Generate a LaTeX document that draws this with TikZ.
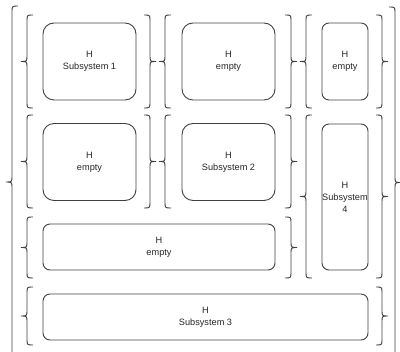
\documentclass[tikz,border=0pt]{standalone}
\usepackage{fontspec}
\setmainfont{Liberation Sans}
\tikzset{
  box/.style={draw=black!75, line width=0.9pt, align=center, inner sep=0pt,
    font=\fontsize{9.2}{12}\selectfont, text=black!85},
  brc/.style={draw=black!75, line width=0.9pt}
}
% left brace: vertical x, top y1, bottom y2
\newcommand{\lbr}[3]{%
  \pgfmathsetmacro{\ym}{(#2+#3)/2}%
  \draw[brc] (#1+6,#2) .. controls (#1,#2) .. (#1,#2+6) -- (#1,\ym-6)
    .. controls (#1,\ym) .. (#1-6,\ym) .. controls (#1,\ym) .. (#1,\ym+6)
    -- (#1,#3-6) .. controls (#1,#3) .. (#1+6,#3);}
\newcommand{\rbr}[3]{%
  \pgfmathsetmacro{\ym}{(#2+#3)/2}%
  \draw[brc] (#1-6,#2) .. controls (#1,#2) .. (#1,#2+6) -- (#1,\ym-6)
    .. controls (#1,\ym) .. (#1+6,\ym) .. controls (#1,\ym) .. (#1,\ym+6)
    -- (#1,#3-6) .. controls (#1,#3) .. (#1-6,#3);}
\begin{document}
\begin{tikzpicture}[x=1pt,y=-1pt]
\useasboundingbox (0,0) rectangle (400,352);
% boxes
\node[box, rounded corners=11pt, minimum width=93pt, minimum height=77pt] (s1) at (89.5,61.5) {H\\Subsystem 1};
\node[box, rounded corners=11pt, minimum width=93pt, minimum height=77pt] (e1) at (228.5,61.5) {H\\empty};
\node[box, rounded corners=7pt, minimum width=46pt, minimum height=77pt] (e2) at (345,61.5) {H\\empty};
\node[box, rounded corners=11pt, minimum width=93pt, minimum height=77pt] (e3) at (89.5,162) {H\\empty};
\node[box, rounded corners=11pt, minimum width=93pt, minimum height=77pt] (s2) at (228.5,162) {H\\Subsystem 2};
\node[box, rounded corners=7pt, minimum width=46pt, minimum height=146pt] (s4) at (345,197) {H\\Subsystem\\4};
\node[box, rounded corners=7pt, minimum width=232pt, minimum height=46pt] (e4) at (159,247) {H\\empty};
\node[box, rounded corners=7pt, minimum width=325pt, minimum height=46pt] (s3) at (205.5,317) {H\\Subsystem 3};
% braces
\lbr{27}{15}{108}
\lbr{27}{115}{208}
\lbr{27}{217}{278}
\lbr{27}{287}{345}
\lbr{165}{15}{108}
\lbr{165}{115}{208}
\lbr{306}{15}{108}
\lbr{306}{115}{278}
\lbr{12}{6}{358}
\rbr{150}{15}{108}
\rbr{150}{115}{208}
\rbr{291}{15}{108}
\rbr{291}{115}{208}
\rbr{291}{217}{278}
\rbr{382}{15}{108}
\rbr{382}{115}{278}
\rbr{382}{287}{345}
\rbr{395}{7}{358}
\end{tikzpicture}
\end{document}
